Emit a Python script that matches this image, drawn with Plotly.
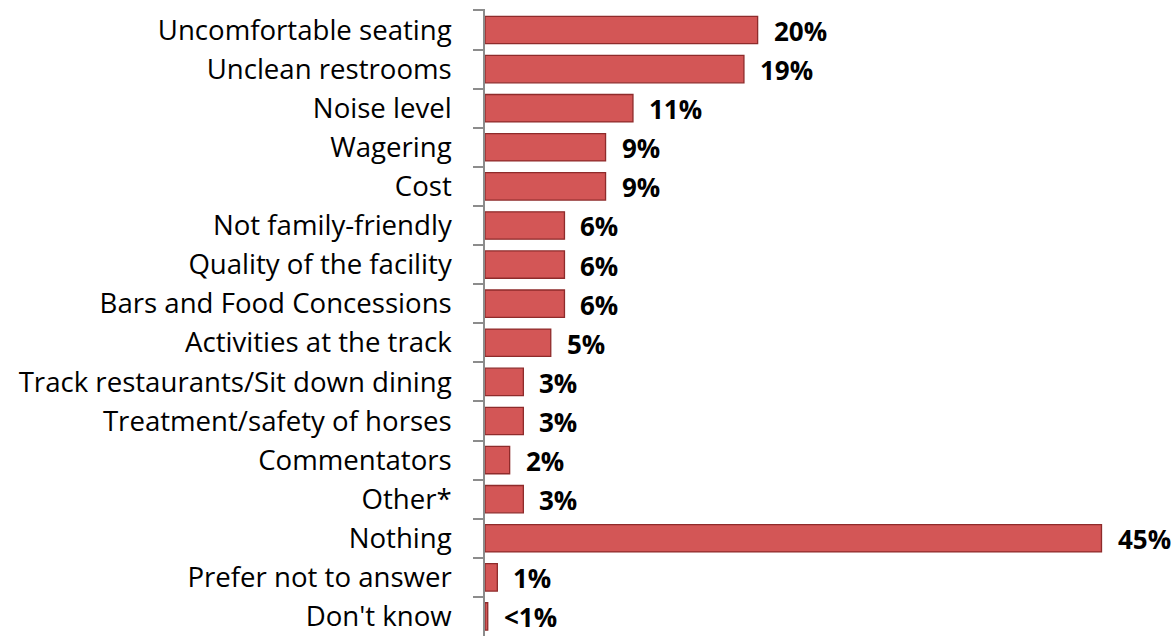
import plotly.graph_objects as go

categories = ["Uncomfortable seating", "Unclean restrooms", "Noise level", "Wagering", "Cost",
              "Not family-friendly", "Quality of the facility", "Bars and Food Concessions",
              "Activities at the track", "Track restaurants/Sit down dining",
              "Treatment/safety of horses", "Commentators", "Other*", "Nothing",
              "Prefer not to answer", "Don't know"]
values = [19.9, 18.9, 10.8, 8.8, 8.8, 5.8, 5.8, 5.8, 4.8, 2.8, 2.8, 1.8, 2.8, 45.0, 0.9, 0.2]
value_labels = ["20%", "19%", "11%", "9%", "9%", "6%", "6%", "6%", "5%", "3%", "3%", "2%",
                "3%", "45%", "1%", "<1%"]

fig = go.Figure()
fig.add_trace(go.Bar(
    y=categories, x=values, orientation="h",
    marker=dict(color="#D35656", line=dict(color="#8E2B2B", width=1.3)),
    hoverinfo="skip",
))

for c, v, t in zip(categories, values, value_labels):
    fig.add_annotation(x=v, y=c, text="<b>" + t + "</b>", showarrow=False,
                       xanchor="left", xshift=14, yshift=-1,
                       font=dict(family="Open Sans", size=26, color="#000000"))

fig.update_layout(
    width=1176, height=639,
    margin=dict(l=485, r=6, t=9, b=3),
    plot_bgcolor="white", paper_bgcolor="white",
    bargap=0.3,
    showlegend=False,
    font=dict(family="Open Sans", size=27.6, color="#000000"),
)
fig.update_xaxes(range=[0, 50], visible=False, showgrid=False, zeroline=False)
fig.update_yaxes(autorange="reversed", automargin=False, showline=True, linecolor="#8C8C8C",
                 linewidth=1.5, ticks="outside", tickson="boundaries", ticklen=10,
                 tickcolor="#8C8C8C", tickwidth=1.5, showgrid=False, ticklabelstandoff=26,
                 tickfont=dict(family="Open Sans", size=27.6, color="#000000"))

fig.write_html("out.html", config={"displayModeBar": False},
               post_script="document.body.style.margin='0';document.body.style.overflow='hidden';")
